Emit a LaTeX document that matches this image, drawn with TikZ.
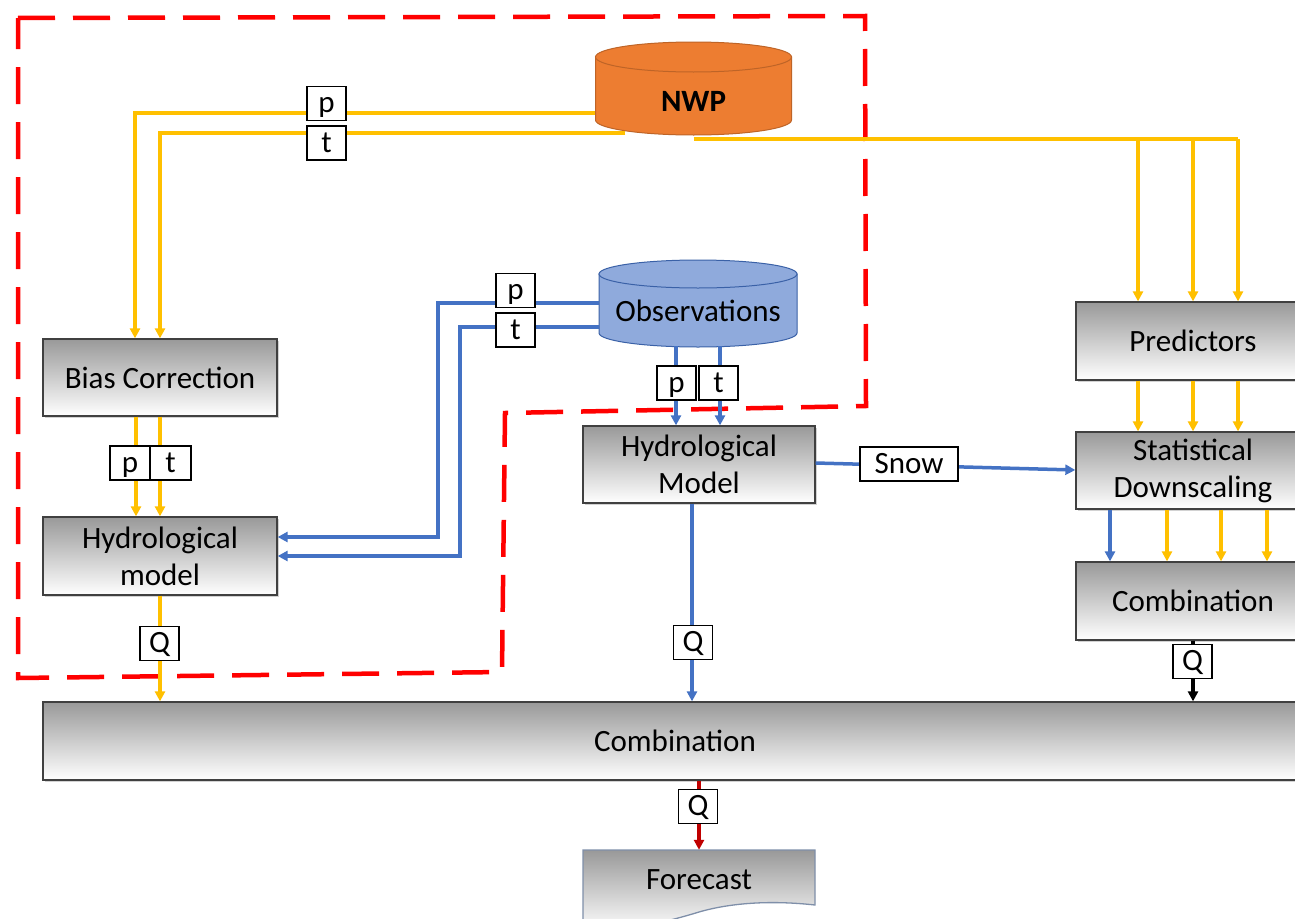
\documentclass[tikz,border=0pt]{standalone}
\usepackage{fontspec}
\setmainfont{Carlito}
\usetikzlibrary{arrows.meta,shadows}
\definecolor{yel}{HTML}{FFC000}
\definecolor{blu}{HTML}{4472C4}
\definecolor{orng}{HTML}{ED7D31}
\definecolor{obsfill}{HTML}{8FAADC}
\definecolor{dred}{HTML}{C00000}
\definecolor{fcb}{HTML}{7F8FA9}
\tikzset{
  box/.style={draw=black!75, line width=1.3pt, top color=black!40, bottom color=white,
    drop shadow={shadow xshift=2pt,shadow yshift=-2pt,opacity=.35},
    inner sep=0pt, align=center, font=\fontsize{31}{37}\selectfont},
  lbl/.style={draw=black, line width=1.2pt, fill=white, inner sep=0pt,
    text height=22pt, text depth=4pt,
    minimum width=39pt, minimum height=34pt, font=\fontsize{31}{31}\selectfont},
  conn/.style={line width=3.5pt, -{Triangle[length=10pt,width=10pt]}},
  yl/.style={conn, draw=yel},
  ylp/.style={line width=3.5pt, draw=yel},
  bl/.style={conn, draw=blu},
  blp/.style={line width=3.5pt, draw=blu},
  kl/.style={conn, draw=black},
  rl/.style={conn, draw=dred},
  reddash/.style={draw=red, line width=4.5pt, dash pattern=on 37pt off 18pt},
}
\begin{document}
\begin{tikzpicture}[x=1pt,y=-1pt]
\useasboundingbox (0,0) rectangle (1295,918);
\fill[white] (0,0) rectangle (1295,918);
\clip (0,0) rectangle (1295,918);

% red dashed region
\draw[reddash] (18,18) -- (865,16) -- (866,406) -- (505,413) -- (502,672) -- (18,678) -- cycle;

% NWP cylinder
\path[fill=orng, draw=orng!80!black, line width=1pt]
  (595.5,57) -- (595.5,120) .. controls (595.5,128.3) and (639.4,135) .. (693.5,135)
  .. controls (747.6,135) and (791.5,128.3) .. (791.5,120) -- (791.5,57) -- cycle;
\draw[fill=orng, draw=orng!80!black, line width=1pt] (693.5,57) ellipse [x radius=98, y radius=15];
\node[inner sep=0pt, minimum width=196pt, minimum height=68pt, font=\fontsize{31}{31}\selectfont\bfseries] (nwp) at (693.5,101) {NWP};

% Observations cylinder
\path[fill=obsfill, draw=blu!85!black, line width=1pt]
  (599,274) -- (599,333) .. controls (599,340.7) and (643.3,347) .. (698,347)
  .. controls (752.7,347) and (797,340.7) .. (797,333) -- (797,274) -- cycle;
\draw[fill=obsfill, draw=blu!85!black, line width=1pt] (698,274) ellipse [x radius=99, y radius=14];
\node[inner sep=0pt, minimum width=198pt, minimum height=72pt, font=\fontsize{31}{31}\selectfont] (obs) at (698,311) {Observations};

% boxes
\node[box, minimum width=234pt, minimum height=77pt] (bias) at (160,377.5) {Bias Correction};
\node[box, minimum width=234pt, minimum height=78pt] (hydL) at (160,556) {Hydrological\\model};
\node[box, minimum width=232pt, minimum height=77pt] (hydM) at (699,464.5) {Hydrological\\Model};
\node[box, minimum width=234pt, minimum height=78pt] (pred) at (1193,341) {Predictors};
\node[box, minimum width=234pt, minimum height=77pt] (sd) at (1193,470.5) {Statistical\\Downscaling};
\node[box, minimum width=234pt, minimum height=78pt] (combR) at (1193,601) {Combination};
\node[box, minimum width=1264pt, minimum height=78pt] (combB) at (675,741) {Combination};

% Forecast document
\path[draw=fcb, line width=1.3pt, top color=black!40, bottom color=white]
  (583,850) -- (815,850) -- (815,905) .. controls (770,900) and (730,903) .. (699,912)
  .. controls (660,924) and (620,932) .. (583,930) -- cycle;
\node[inner sep=0pt, minimum width=232pt, minimum height=60pt, font=\fontsize{31}{31}\selectfont] (fc) at (699,880) {Forecast};

% junction coordinates
\coordinate (nwpR) at (1238,139);
\coordinate (d1) at (1138,139);
\coordinate (d2) at (1193,139);

% NWP -> Bias correction
\draw[yl] (nwp.west |- 0,113) -| ([xshift=-25pt]bias.north);
\draw[yl] ([xshift=30pt,yshift=2pt]nwp.south west) -| (bias.north);
% NWP -> predictors
\draw[ylp] (nwp.south |- 0,139) -- (nwpR);
\draw[yl] (d1) -- ([xshift=-55pt]pred.north);
\draw[yl] (d2) -- (pred.north);
\draw[yl] (nwpR) -- ([xshift=45pt]pred.north);
% predictors -> SD
\draw[yl] ([xshift=-55pt]pred.south) -- ([xshift=-55pt]sd.north);
\draw[yl] (pred.south) -- (sd.north);
\draw[yl] ([xshift=45pt]pred.south) -- ([xshift=45pt]sd.north);
% SD -> combR
\draw[bl] ([xshift=-83pt]sd.south) -- ([xshift=-83pt]combR.north);
\draw[yl] ([xshift=-26pt]sd.south) -- ([xshift=-26pt]combR.north);
\draw[yl] ([xshift=28pt]sd.south) -- ([xshift=28pt]combR.north);
\draw[yl] ([xshift=74pt]sd.south) -- ([xshift=74pt]combR.north);
% combR -> combB
\draw[kl] (combR.south) -- (combR.south |- combB.north);
% bias -> hydL
\draw[yl] ([xshift=-24pt]bias.south) -- ([xshift=-24pt]hydL.north);
\draw[yl] (bias.south) -- (hydL.north);
% hydL -> combB
\draw[yl] (hydL.south) -- (hydL.south |- combB.north);
% Obs -> hydL
\draw[bl] (obs.west |- 0,303) -- (438,303) -- (438,537) -- (hydL.east |- 0,537);
\draw[bl] (obs.west |- 0,327) -- (460,327) -- (460,556) -- (hydL.east |- 0,556);
% Obs -> hydM
\draw[bl] (676,346) -- (676,0 |- hydM.north);
\draw[bl] (720,346) -- (720,0 |- hydM.north);
% hydM -> SD
\draw[bl] (hydM.east |- 0,463) -- (sd.west |- 0,470);
% hydM -> combB
\draw[bl] (692,0 |- hydM.south) -- (692,0 |- combB.north);
% combB -> forecast
\draw[rl] (fc.north |- combB.south) -- (fc.north);

% labels
\node[lbl] (lp1) at (326.5,103.5) {p};
\node[lbl] (lt1) at (326.5,143) {t};
\node[lbl] (lp2) at (515.5,290.5) {p};
\node[lbl] (lt2) at (515.5,330) {t};
\node[lbl] (lp3) at (676.5,383) {p};
\node[lbl] (lt3) at (718.5,383) {t};
\node[lbl, minimum width=40pt] (lp4) at (130,463) {p};
\node[lbl, minimum width=41pt] (lt4) at (170.5,463) {t};
\node[lbl] (lq1) at (159.5,643.5) {Q};
\node[lbl] (lq2) at (693,642.5) {Q};
\node[lbl] (lq3) at (1192.5,661.5) {Q};
\node[lbl] (lq4) at (698,806.5) {Q};
\node[lbl, minimum width=98pt] (lsnow) at (909,464) {Snow};
\end{tikzpicture}
\end{document}
